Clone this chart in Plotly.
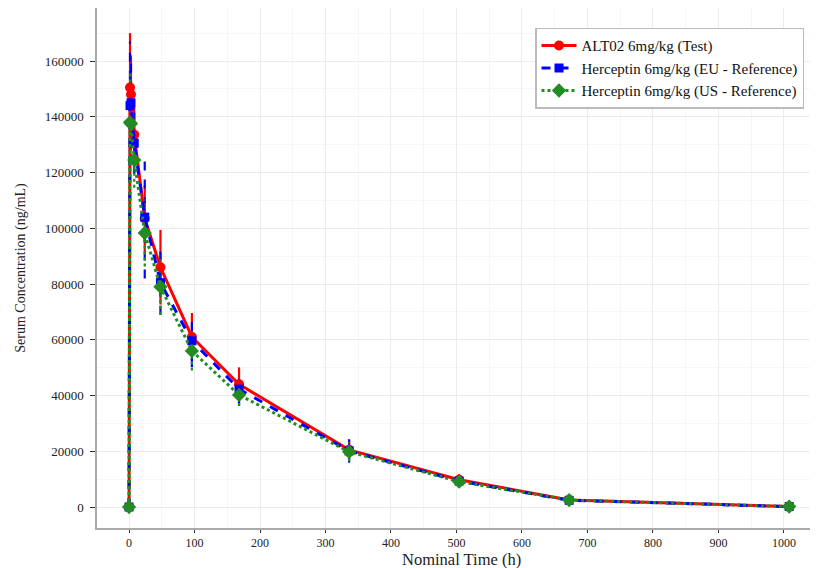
import plotly.graph_objects as go

# ---- data ----
time_h = [0, 1.5, 3, 8, 24, 48, 96, 168, 336, 504, 672, 1008]

alt02_mean = [0, 150500, 148000, 133500, 103500, 86000, 61000, 44000, 20500, 9800, 2500, 200]
alt02_sd = [0, 19500, 14000, 10000, 12000, 13400, 8600, 6100, 3600, 2000, 500, 100]

eu_mean = [0, 144000, 145000, 130500, 104000, 80500, 59600, 42300, 20100, 9300, 2400, 150]
eu_sd = [0, 23000, 15000, 11000, 22000, 11500, 9400, 6000, 4200, 2300, 500, 100]

us_mean = [0, 138000, 137500, 124500, 98300, 79000, 56000, 40200, 19800, 9100, 2500, 150]
us_sd = [0, 18000, 14000, 10000, 12000, 10000, 7000, 4000, 3500, 2000, 500, 100]

series_names = ["ALT02 6mg/kg (Test)",
                "Herceptin 6mg/kg (EU - Reference)",
                "Herceptin 6mg/kg (US - Reference)"]

x_ticks = [0, 100, 200, 300, 400, 500, 600, 700, 800, 900, 1000]
y_ticks = [0, 20000, 40000, 60000, 80000, 100000, 120000, 140000, 160000]

styles = [
    dict(color="#ff0000", dash="solid", symbol="circle", size=10),
    dict(color="#0000ff", dash="dash", symbol="square", size=9),
    dict(color="#228b22", dash="dot", symbol="diamond", size=11),
]

means = [alt02_mean, eu_mean, us_mean]
sds = [alt02_sd, eu_sd, us_sd]

fig = go.Figure()

# error bars (vertical only, in series colour / linetype)
for m, s, st in zip(means, sds, styles):
    ex, ey = [], []
    for t, v, d in zip(time_h, m, s):
        if d > 0:
            ex += [t, t, None]
            ey += [v - d, v + d, None]
    fig.add_trace(go.Scatter(x=ex, y=ey, mode="lines", showlegend=False,
                             hoverinfo="skip",
                             line=dict(color=st["color"], width=2.2, dash=st["dash"])))

# mean profiles
for name, m, st in zip(series_names, means, styles):
    fig.add_trace(go.Scatter(
        x=time_h, y=m, mode="lines+markers", name=name, legendgroup=name,
        line=dict(color=st["color"], width=3, dash=st["dash"]),
        marker=dict(symbol=st["symbol"], size=st["size"], color=st["color"]),
    ))

serif = "Liberation Serif, Times New Roman, serif"

# the page shows the figure offset by the body margin (8px), so size accordingly
plot_h = 560 - 40
fig.update_layout(
    width=810, height=560,
    margin=dict(l=89, r=0, t=0, b=40, autoexpand=False),
    paper_bgcolor="white", plot_bgcolor="white",
    font=dict(family=serif, size=13, color="#222222"),
    showlegend=True,
    legend=dict(x=0.6075, y=0.962, xanchor="left", yanchor="top",
                bordercolor="#bbbbbb", borderwidth=1.5, bgcolor="white",
                font=dict(family=serif, size=15, color="#111111"),
                tracegroupgap=0, itemwidth=35),
    annotations=[dict(text="Nominal Time (h)", xref="paper", yref="paper",
                      x=(461 - 97) / 721, y=-(551 - plot_h) / plot_h,
                      xanchor="center", yanchor="middle", showarrow=False,
                      font=dict(family=serif, size=16.5, color="#222222"))],
)

fig.update_xaxes(
    range=[-48.9, 1052], tickvals=x_ticks, ticktext=[str(v) for v in x_ticks],
    showgrid=True, gridcolor="#ececec", gridwidth=1,
    minor=dict(dtick=50, showgrid=True, gridcolor="#f6f6f6", gridwidth=1),
    showline=True, linecolor="#aaaaaa", linewidth=1.5, mirror=True,
    ticks="outside", ticklen=3, tickcolor="#333333", tickwidth=1,
    ticklabelstandoff=0,
    tickfont=dict(family=serif, size=12, color="#222222"),
    zeroline=False, automargin=False,
)

fig.update_yaxes(
    range=[-7534, 179013], tickvals=y_ticks, ticktext=[str(v) for v in y_ticks],
    showgrid=True, gridcolor="#ececec", gridwidth=1,
    minor=dict(dtick=10000, showgrid=True, gridcolor="#f6f6f6", gridwidth=1),
    showline=True, linecolor="#aaaaaa", linewidth=1.5, mirror=False,
    ticks="outside", ticklen=5, tickcolor="#333333", tickwidth=1,
    ticklabelstandoff=4,
    tickfont=dict(family=serif, size=13, color="#222222"),
    zeroline=False, automargin=False,
    title=dict(text="Serum Concentration (ng/mL)",
               font=dict(family=serif, size=14, color="#222222"), standoff=16),
)

fig.write_html("out.html")
